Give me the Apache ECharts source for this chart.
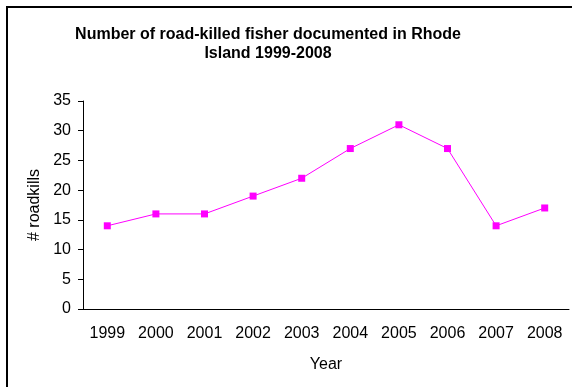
<!DOCTYPE html>
<html>
<head>
<meta charset="utf-8">
<script src="https://cdn.jsdelivr.net/npm/echarts@6/dist/echarts.min.js"></script>
<style>
  html, body { margin: 0; padding: 0; background: #fff; }
  #chart { width: 572px; height: 387px; }
</style>
</head>
<body>
<div id="chart"></div>
<script>
var years = ["1999", "2000", "2001", "2002", "2003", "2004", "2005", "2006", "2007", "2008"];
var roadkills = [14, 16, 16, 19, 22, 27, 31, 27, 14, 17];

var chart = echarts.init(document.getElementById("chart"));
var font = "Arial, 'Liberation Sans', sans-serif";

var option = {
  animation: false,
  backgroundColor: "#fff",
  title: {
    text: "Number of road-killed fisher documented in Rhode\nIsland 1999-2008",
    left: 263,
    top: 20,
    textAlign: "center",
    textStyle: {
      fontFamily: font,
      fontSize: 16,
      fontWeight: "bold",
      color: "#000",
      lineHeight: 19
    }
  },
  graphic: [
    {
      type: "rect",
      shape: { x: 7, y: 7, width: 620, height: 420 },
      style: { fill: "none", stroke: "#000", lineWidth: 2 }
    }
  ],
  grid: {
    left: 83,
    right: 3,
    top: 101,
    bottom: 78
  },
  xAxis: {
    type: "category",
    data: years,
    name: "Year",
    nameLocation: "middle",
    nameGap: 48,
    nameTextStyle: { fontFamily: font, fontSize: 16, color: "#000" },
    axisLine: { lineStyle: { color: "#000", width: 1 } },
    axisTick: { length: 5, lineStyle: { color: "#000" } },
    axisLabel: {
      interval: 0,
      margin: 17,
      fontFamily: font,
      fontSize: 16,
      color: "#000"
    },
    splitLine: { show: false }
  },
  yAxis: {
    type: "value",
    min: 0,
    max: 35,
    interval: 5,
    name: "# roadkills",
    nameLocation: "middle",
    nameGap: 40,
    nameTextStyle: { fontFamily: font, fontSize: 16, color: "#000" },
    axisLine: { show: true, lineStyle: { color: "#000", width: 1 } },
    axisTick: { show: true, length: 5, lineStyle: { color: "#000" } },
    axisLabel: {
      margin: 12,
      fontFamily: font,
      fontSize: 16,
      color: "#000"
    },
    splitLine: { show: false }
  },
  series: [
    {
      type: "line",
      data: roadkills,
      symbol: "rect",
      symbolSize: 7,
      lineStyle: { color: "#ff00ff", width: 1 },
      itemStyle: { color: "#ff00ff" }
    }
  ]
};

chart.setOption(option);
</script>
</body>
</html>
